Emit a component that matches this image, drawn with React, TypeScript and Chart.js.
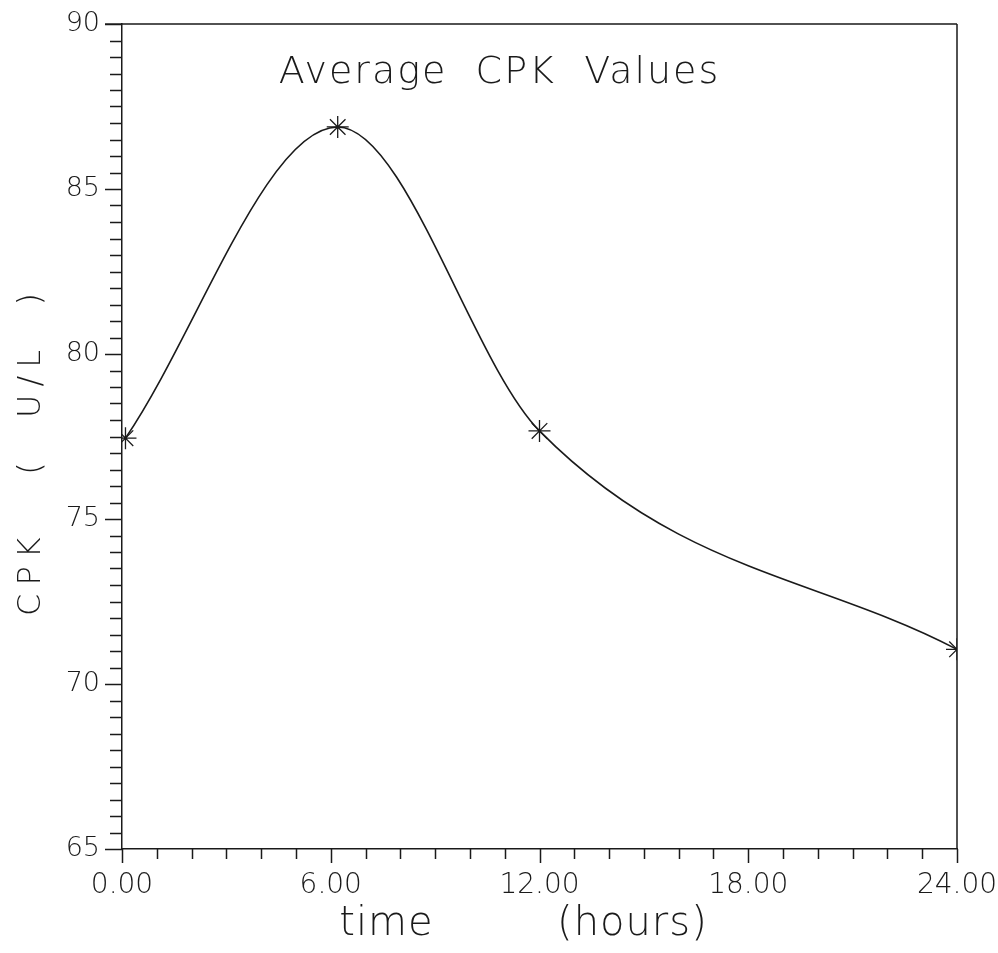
import React, { useEffect, useRef } from "react";
import { Chart, registerables } from "chart.js";

Chart.register(...registerables);

// ---- data ----
const timeHours = [0.1, 6.2, 12.0, 24.0];
const cpkValues = [77.45, 86.88, 77.67, 71.05];

const xTickValues = [0, 6, 12, 18, 24];
const yTickValues = [65, 70, 75, 80, 85, 90];
const xMinorStep = 1;
const yMinorStep = 0.5;

const chartTitle = "Average  CPK  Values";
const xTitle = "time         (hours)";
const yTitle = "CPK   (  U/L  )";

const FONT = "'DejaVu Sans', 'Liberation Sans', sans-serif";
const INK = "#1a1a1a";

const zeroPadding = (scale: any) => {
  scale.paddingTop = 0;
  scale.paddingBottom = 0;
  scale.paddingLeft = 0;
  scale.paddingRight = 0;
};

const framePlugin = {
  id: "framePlugin",
  afterDraw(chart: any) {
    const { ctx, chartArea, scales } = chart;
    const { left, right, top, bottom } = chartArea;
    const x = scales.x;
    const y = scales.y;
    ctx.save();
    ctx.strokeStyle = INK;
    ctx.lineWidth = 1.5;
    ctx.beginPath();
    const yMin = yTickValues[0];
    const yMax = yTickValues[yTickValues.length - 1];
    for (let v = yMin; v <= yMax + 1e-9; v += yMinorStep) {
      const py = Math.round(y.getPixelForValue(v)) + 0.5;
      const major = yTickValues.some((t) => Math.abs(t - v) < 1e-9);
      ctx.moveTo(left - (major ? 17 : 12), py);
      ctx.lineTo(left, py);
    }
    const xMin = xTickValues[0];
    const xMax = xTickValues[xTickValues.length - 1];
    for (let h = xMin; h <= xMax + 1e-9; h += xMinorStep) {
      const px = Math.round(x.getPixelForValue(h)) + 0.5;
      const major = xTickValues.some((t) => Math.abs(t - h) < 1e-9);
      ctx.moveTo(px, bottom);
      ctx.lineTo(px, bottom + (major ? 14 : 10));
    }
    ctx.moveTo(left - 17, top);
    ctx.lineTo(right, top);
    ctx.moveTo(right, top);
    ctx.lineTo(right, bottom);
    ctx.stroke();

    ctx.fillStyle = INK;
    ctx.font = `200 38px ${FONT}`;
    (ctx as any).letterSpacing = "2px";
    ctx.textAlign = "center";
    ctx.textBaseline = "alphabetic";
    ctx.fillText(chartTitle, (left + right) / 2 - 40, top + 59);

    ctx.font = `200 40px ${FONT}`;
    (ctx as any).letterSpacing = "1px";
    ctx.fillText(xTitle, (left + right) / 2 - 16, bottom + 86);

    ctx.font = `200 32px ${FONT}`;
    (ctx as any).letterSpacing = "8px";
    ctx.translate(40, (top + bottom) / 2 + 14);
    ctx.rotate(-Math.PI / 2);
    ctx.textAlign = "center";
    ctx.fillText(yTitle, 0, 0);
    ctx.restore();
  },
};

export default function App() {
  const canvasRef = useRef<HTMLCanvasElement | null>(null);

  useEffect(() => {
    if (!canvasRef.current) return;
    const chart = new Chart(canvasRef.current, {
      type: "line",
      data: {
        datasets: [
          {
            label: "Average CPK",
            data: timeHours.map((t, i) => ({ x: t, y: cpkValues[i] })),
            borderColor: INK,
            borderWidth: 1.6,
            cubicInterpolationMode: "monotone",
            fill: false,
            pointStyle: "star",
            pointRadius: 11,
            pointBorderWidth: 1.3,
            pointBorderColor: INK,
            pointBackgroundColor: INK,
          },
        ],
      },
      options: {
        animation: false,
        responsive: true,
        maintainAspectRatio: false,
        layout: { padding: { left: 0, right: 41, top: 24, bottom: 0 } },
        plugins: {
          legend: { display: false },
          tooltip: { enabled: false },
          title: { display: false },
        },
        scales: {
          x: {
            type: "linear",
            min: xTickValues[0],
            max: xTickValues[xTickValues.length - 1],
            afterFit: (scale: any) => {
              scale.height = 104;
              zeroPadding(scale);
            },
            afterBuildTicks: (scale: any) => {
              scale.ticks = xTickValues.map((v) => ({ value: v }));
            },
            ticks: {
              autoSkip: false,
              maxRotation: 0,
              padding: 20,
              color: INK,
              font: { family: FONT, size: 28, weight: "200" as any },
              callback: (v: any) => Number(v).toFixed(2),
            },
            grid: { display: false, drawTicks: false },
            border: { display: true, color: INK, width: 1.5 },
            title: { display: false },
          },
          y: {
            type: "linear",
            min: yTickValues[0],
            max: yTickValues[yTickValues.length - 1],
            afterFit: (scale: any) => {
              scale.width = 122;
              zeroPadding(scale);
            },
            afterBuildTicks: (scale: any) => {
              scale.ticks = yTickValues.map((v) => ({ value: v }));
            },
            ticks: {
              autoSkip: false,
              padding: 22,
              color: INK,
              font: { family: FONT, size: 27, weight: "200" as any },
              callback: (v: any) => String(v),
            },
            grid: { display: false, drawTicks: false },
            border: { display: true, color: INK, width: 1.5 },
            title: { display: false },
          },
        },
      },
      plugins: [framePlugin],
    } as any);
    return () => chart.destroy();
  }, []);

  return (
    <div
      style={{
        position: "absolute",
        left: 0,
        top: 0,
        width: 998,
        height: 953,
        background: "#fff",
      }}
    >
      <canvas ref={canvasRef} />
    </div>
  );
}
